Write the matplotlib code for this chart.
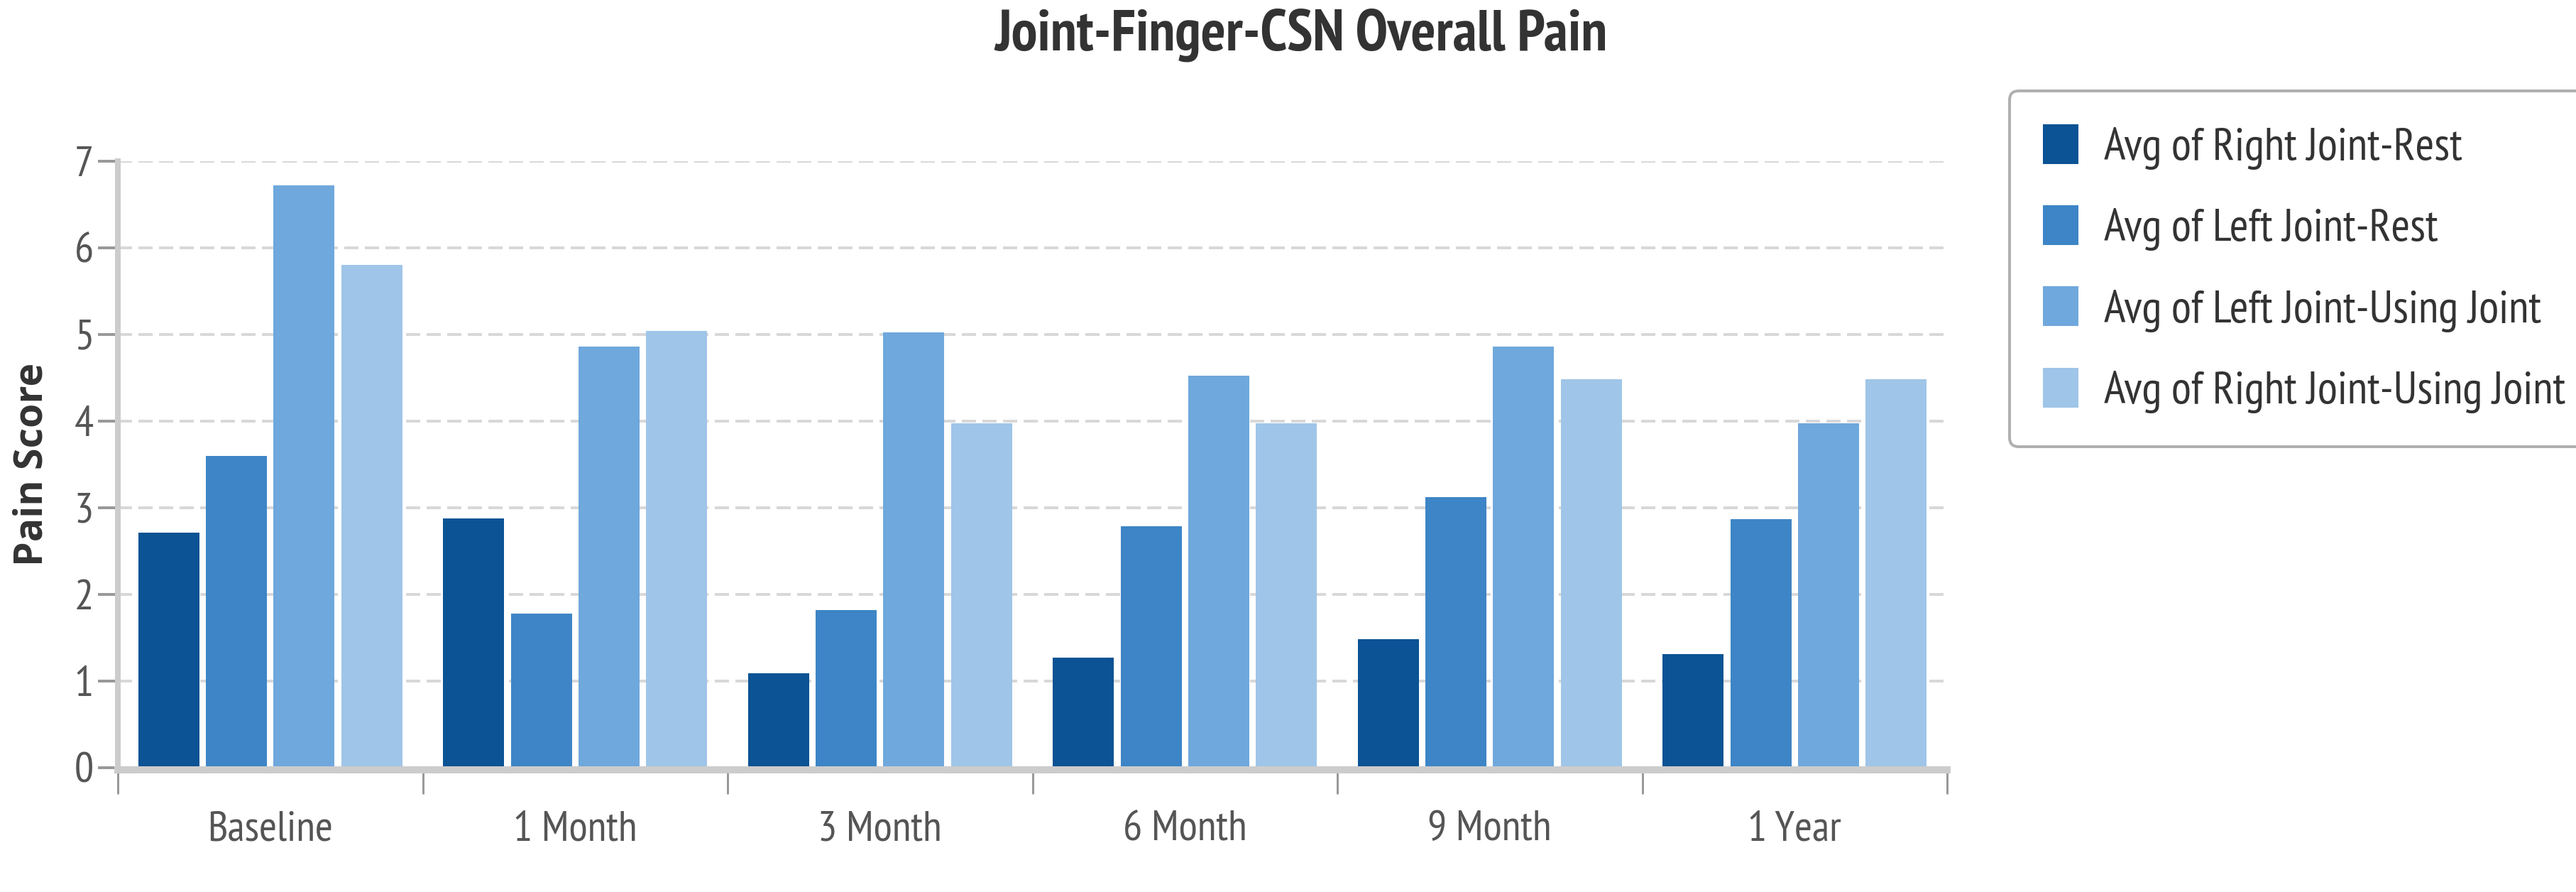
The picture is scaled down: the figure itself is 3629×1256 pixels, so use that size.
import numpy as np
import matplotlib
matplotlib.use("Agg")
import matplotlib.pyplot as plt
from matplotlib import font_manager
from matplotlib.font_manager import FontProperties
from matplotlib.textpath import TextToPath


#############################################################################
#DATA
#############################################################################

time_periods = ["Baseline", "1 Month", "3 Month", "6 Month", "9 Month", "1 Year"]
series_names = ["Avg of Right Joint-Rest", "Avg of Left Joint-Rest",
	"Avg of Left Joint-Using Joint", "Avg of Right Joint-Using Joint"]
right_joint_rest = [2.71, 2.88, 1.09, 1.27, 1.48, 1.31]
left_joint_rest = [3.60, 1.78, 1.82, 2.79, 3.12, 2.87]
left_joint_using = [6.72, 4.86, 5.02, 4.52, 4.86, 3.97]
right_joint_using = [5.80, 5.04, 3.97, 3.97, 4.48, 4.48]
y_ticks = [0, 1, 2, 3, 4, 5, 6, 7]

colors = ["#0b5394", "#3d85c6", "#6fa8dc", "#9fc5e8"]

#############################################################################
#FONTS: the original text is squeezed sideways, so use a narrow face
#############################################################################

names = {f.name for f in font_manager.fontManager.ttflist}
narrow = "Liberation Sans"
for cand in ["PT Sans Narrow", "Archivo Narrow", "Roboto Condensed", "Barlow Semi Condensed",
		"Fira Sans Condensed", "Sofia Sans Semi Condensed"]:
	if cand in names:
		narrow = cand
		break
wide = "Open Sans" if "Open Sans" in names else "Liberation Sans"
plt.rcParams["font.family"] = [narrow, "DejaVu Sans"]

W, H = 3629, 1256
ttp = TextToPath()


def px(v):
	# pixels -> points at dpi 100
	return v * 0.72


def fit_size(s, target_px, family, weight="normal"):
	# font size (pt) that makes the string target_px wide
	prop = FontProperties(family=family, weight=weight, size=100)
	w, h, d = ttp.get_text_width_height_descent(s, prop, ismath=False)
	return 100.0 * target_px / (w / 0.72)


tick_size = fit_size("Baseline", 177, narrow)
legend_size = fit_size("Avg of Right Joint-Rest", 505, narrow)
title_size = fit_size("Joint-Finger-CSN Overall Pain", 863, narrow, "bold")
xlab_size = fit_size("Time Period", 271, narrow, "bold")
ylab_size = fit_size("Pain Score", 286, wide, "bold")


def plot_pain(series, xlabels, legends, colors):
	fig = plt.figure(figsize=(W / 100.0, H / 100.0), dpi=100)
	ax = fig.add_axes([166.0 / W, 1 - 1081.0 / H, (2743.0 - 166) / W, (1081.0 - 226.7) / H])

	x = np.arange(len(xlabels))
	step = 0.222
	width = 0.2
	bars = []
	for j in range(len(series)):
		off = (j - (len(series) - 1) / 2.0) * step
		b = ax.bar(x + off, series[j], width=width, color=colors[j], linewidth=0, label=legends[j], zorder=2)
		bars.append(b)

	ax.set_xlim(-0.5, len(xlabels) - 0.5)
	ax.set_ylim(0, 7)
	ax.set_yticks(y_ticks)
	ax.set_yticklabels([str(t) for t in y_ticks])

	# group boundaries carry the tick marks, centres carry the labels
	ax.set_xticks(np.arange(len(xlabels) + 1) - 0.5)
	ax.set_xticklabels([])
	ax.set_xticks(x, minor=True)
	ax.set_xticklabels(xlabels, minor=True)
	ax.tick_params(axis="x", which="major", length=px(34), width=px(3), color="#999999", direction="out")
	ax.tick_params(axis="x", which="minor", length=0, pad=px(57), labelsize=tick_size, labelcolor="#555555")
	ax.tick_params(axis="y", length=px(28), width=px(4), color="#999999", pad=px(6),
		labelsize=tick_size, labelcolor="#555555")

	ax.set_axisbelow(True)
	ax.yaxis.grid(True, color="#d8d8d8", linewidth=px(4), linestyle=(0, (5, 2.25)))

	for s in ["top", "right"]:
		ax.spines[s].set_visible(False)
	ax.spines["left"].set_color("#cccccc")
	ax.spines["left"].set_linewidth(px(8))
	ax.spines["bottom"].set_color("#cccccc")
	ax.spines["bottom"].set_linewidth(px(10))
	ax.spines["bottom"].set_position(("outward", px(3)))

	ax.set_ylabel("Pain Score", fontsize=ylab_size, color="#333333", family=wide, weight="bold")
	ax.yaxis.set_label_coords((45.0 - 166) / (2743 - 166), 0.5)
	ax.yaxis.label.set_verticalalignment("center")

	# only the top of this label shows at the bottom edge of the original
	fig.text(1457.0 / W, 1 - 1261.0 / H, "Time Period", ha="center", va="top",
		fontsize=xlab_size, weight="bold", color="#333333")

	fig.suptitle("Joint-Finger-CSN Overall Pain", x=1833.0 / W, y=1 - 49.0 / H, va="center",
		fontsize=title_size, weight="bold", color="#333333")

	F = legend_size / 0.72
	leg = fig.legend(handles=bars, labels=legends, loc="upper left",
		bbox_to_anchor=(2831.0 / W, 1 - 128.0 / H), borderaxespad=0,
		prop=FontProperties(family=narrow, size=legend_size),
		handlelength=50.0 / F, handleheight=62.0 / F, handletextpad=36.0 / F,
		labelspacing=(114.0 - 64) / F, borderpad=47.0 / F, fancybox=True, framealpha=1)
	for t in leg.get_texts():
		t.set_color("#333333")
	frame = leg.get_frame()
	frame.set_edgecolor("#b0b0b0")
	frame.set_linewidth(px(4))

	fig.savefig("out.png", dpi=100)


if __name__ == "__main__":
	plot_pain([right_joint_rest, left_joint_rest, left_joint_using, right_joint_using],
		time_periods, series_names, colors)
